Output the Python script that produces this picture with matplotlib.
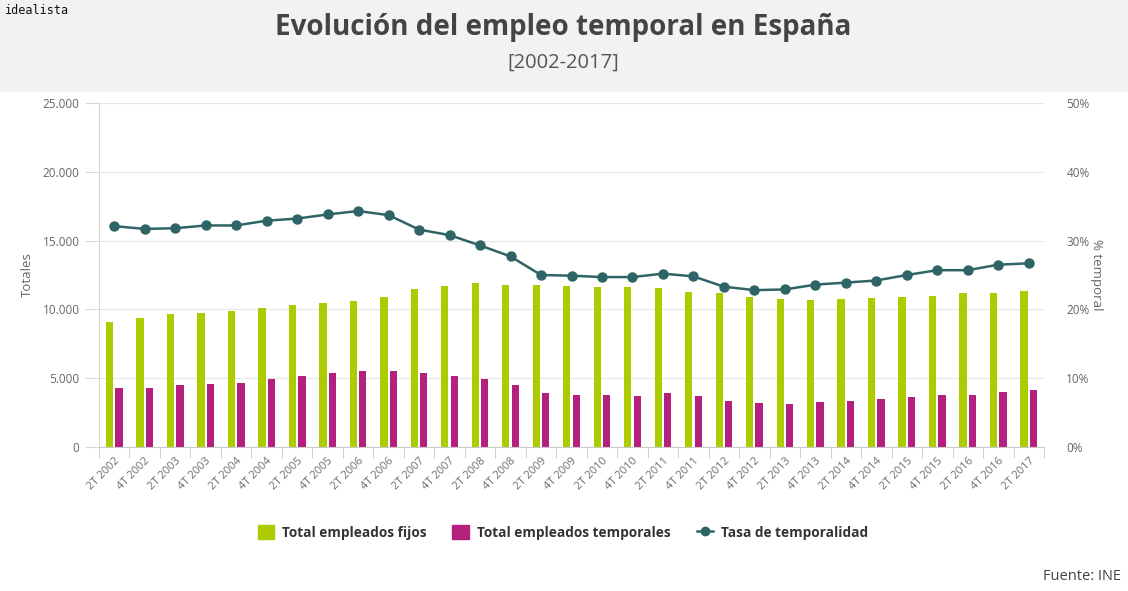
import matplotlib.pyplot as plt
import matplotlib.patches as mpatches
from matplotlib.lines import Line2D
from matplotlib.ticker import FuncFormatter
import numpy as np

plt.rcParams["font.family"] = ["Open Sans", "DejaVu Sans"]

# quarters shown, 2T 2002 .. 2T 2017
periods = []
for year in range(2002, 2018):
    periods.append(f"2T {year}")
    if year < 2017:
        periods.append(f"4T {year}")

# miles de personas
fijos = [9100, 9400, 9640, 9710, 9880, 10080, 10320, 10490, 10590, 10930,
         11460, 11700, 11940, 11770, 11770, 11700, 11600, 11600, 11530, 11260,
         11170, 10930, 10760, 10680, 10760, 10830, 10930, 11000, 11170, 11170,
         11340]
temporales = [4310, 4310, 4480, 4580, 4670, 4920, 5160, 5350, 5520, 5520,
              5350, 5160, 4920, 4480, 3900, 3800, 3800, 3710, 3900, 3710,
              3370, 3200, 3100, 3270, 3370, 3470, 3630, 3800, 3800, 3980,
              4140]
# % temporal
tasa = [32.1, 31.7, 31.8, 32.2, 32.2, 32.9, 33.2, 33.8, 34.3, 33.7,
        31.6, 30.8, 29.3, 27.7, 25.0, 24.9, 24.7, 24.7, 25.2, 24.8,
        23.3, 22.8, 22.9, 23.6, 23.9, 24.2, 25.0, 25.7, 25.7, 26.5,
        26.7]

GREEN = "#aecb00"
MAGENTA = "#b5207f"
TEAL = "#2f6466"
TEXT = "#666666"
GRID = "#e6e6e6"

fig = plt.figure(figsize=(11.28, 5.91), dpi=100)
fig.patches.append(mpatches.Rectangle((0, 1 - 92 / 591), 1, 92 / 591,
                                      transform=fig.transFigure,
                                      facecolor="#f2f2f2", zorder=0))
fig.text(0.004, 0.982, "idealista", fontsize=8.5, family="DejaVu Sans Mono",
         color="#111111", va="center", ha="left")
fig.text(0.499, 0.953, "Evolución del empleo temporal en España",
         fontsize=20, fontweight="bold", color="#444444", ha="center", va="center")
fig.text(0.499, 0.894, "[2002-2017]", fontsize=14.5, color="#555555",
         ha="center", va="center")

ax = fig.add_axes([99 / 1128, 1 - 447 / 591, (1044 - 99) / 1128, 344 / 591])
x = np.arange(len(periods))
ax.bar(x - 0.155, fijos, width=0.24, color=GREEN, zorder=2)
ax.bar(x + 0.155, temporales, width=0.24, color=MAGENTA, zorder=2)

ax.set_xlim(-0.5, len(periods) - 0.5)
ax.set_ylim(0, 25000)
ax.set_yticks(np.arange(0, 25001, 5000))
ax.yaxis.set_major_formatter(FuncFormatter(lambda v, p: f"{int(v):,}".replace(",", ".")))
ax.grid(axis="y", color=GRID, linewidth=0.8, zorder=0)
ax.set_axisbelow(True)

for side in ["top", "right"]:
    ax.spines[side].set_visible(False)
ax.spines["left"].set_color("#d8d8d8")
ax.spines["bottom"].set_color("#c8c8c8")

ax.set_xticks(x)
ax.set_xticklabels(periods, rotation=45, ha="right", rotation_mode="anchor",
                   fontsize=8, color="#6e6e6e")
ax.tick_params(axis="x", length=0, pad=6)
ax.set_xticks(np.arange(-0.5, len(periods), 1), minor=True)
ax.tick_params(axis="x", which="minor", length=8, color="#c8c8c8")
ax.tick_params(axis="y", length=10, color="#d8d8d8", labelsize=8.5,
               labelcolor=TEXT, pad=4)
ax.set_ylabel("Totales", fontsize=9.5, color=TEXT, labelpad=6)

ax2 = ax.twinx()
ax2.plot(x, tasa, color=TEAL, linewidth=1.8, marker="o", markersize=6.5, zorder=3)
ax2.set_ylim(0, 50)
ax2.set_yticks(np.arange(0, 51, 10))
ax2.yaxis.set_major_formatter(FuncFormatter(lambda v, p: f"{int(v)}%"))
ax2.tick_params(axis="y", length=0, labelsize=8.5, labelcolor=TEXT, pad=16)
for side in ["top", "right", "left", "bottom"]:
    ax2.spines[side].set_visible(False)
ax2.set_ylabel("% temporal", fontsize=9.5, color=TEXT, rotation=270, labelpad=10)

handles = [
    mpatches.Patch(color=GREEN, label="Total empleados fijos"),
    mpatches.Patch(color=MAGENTA, label="Total empleados temporales"),
    Line2D([0], [0], color=TEAL, linewidth=1.8, marker="o", markersize=6,
           label="Tasa de temporalidad"),
]
leg = fig.legend(handles=handles, loc="center", bbox_to_anchor=(0.499, 0.099),
                 ncol=3, frameon=False, handlelength=1.2, handleheight=1.2,
                 columnspacing=1.9, handletextpad=0.6,
                 prop={"weight": "bold", "size": 9.8})
for t in leg.get_texts():
    t.set_color("#333333")

fig.text(0.994, 0.025, "Fuente: INE", fontsize=10.5, color="#444444",
         ha="right", va="center")

fig.savefig("out.png", dpi=100)
